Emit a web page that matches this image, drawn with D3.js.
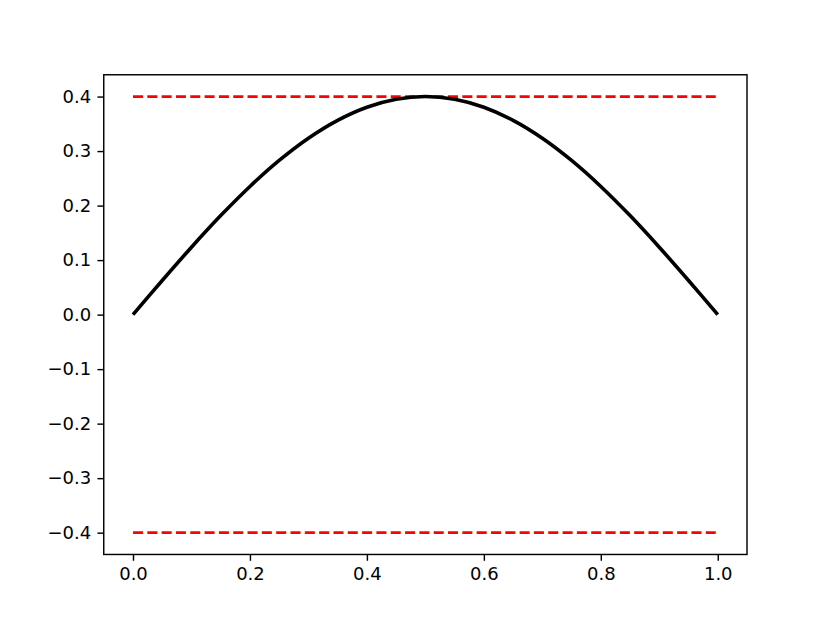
<!DOCTYPE html>
<html>
<head>
<meta charset="utf-8">
<script src="https://cdn.jsdelivr.net/npm/d3@7"></script>
<style>
  body { margin: 0; background: #fff; }
  svg { display: block; font-family: "DejaVu Sans", sans-serif; }
</style>
</head>
<body>
<div id="chart"></div>
<script>
// curve (x, y)
var curveX = [0, 0.05, 0.1, 0.15, 0.2, 0.25, 0.3, 0.35, 0.4, 0.45, 0.5,
              0.55, 0.6, 0.65, 0.7, 0.75, 0.8, 0.85, 0.9, 0.95, 1.0];
var curveY = [0, 0.0626, 0.1236, 0.1816, 0.2351, 0.2828, 0.3236, 0.3564, 0.3804, 0.3951, 0.4,
              0.3951, 0.3804, 0.3564, 0.3236, 0.2828, 0.2351, 0.1816, 0.1236, 0.0626, 0];

// horizontal dashed bounds
var boundLevels = [0.4, -0.4];
var boundSpan = [0, 1];

var xTicks = [0, 0.2, 0.4, 0.6, 0.8, 1.0];
var yTicks = [-0.4, -0.3, -0.2, -0.1, 0, 0.1, 0.2, 0.3, 0.4];

var width = 830, height = 623;
var s = (830 / 640) * (100 / 72); // pt -> px
var margin = { left: 0.125 * width, right: 0.1 * width, top: 0.12 * height, bottom: 0.11 * height };

var svg = d3.select('#chart').append('svg')
    .attr('width', width)
    .attr('height', height);

var x = d3.scaleLinear().domain([-0.05, 1.05]).range([margin.left, width - margin.right]);
var y = d3.scaleLinear().domain([-0.44, 0.44]).range([height - margin.bottom, margin.top]);

var fmt = function(d) { return d3.format('.1f')(d).replace('-', '\u2212'); };

// bounds
var redW = 1.5 * s;
svg.append('g')
    .selectAll('line')
    .data(boundLevels)
    .enter().append('line')
    .attr('x1', x(boundSpan[0]))
    .attr('x2', x(boundSpan[1]))
    .attr('y1', function(d) { return y(d); })
    .attr('y2', function(d) { return y(d); })
    .attr('stroke', 'red')
    .attr('stroke-width', redW)
    .attr('stroke-dasharray', (3.7 * redW) + ',' + (1.6 * redW));

// curve
var pts = curveX.map(function(d, i) { return [d, curveY[i]]; });
svg.append('path')
    .datum(pts)
    .attr('fill', 'none')
    .attr('stroke', '#000')
    .attr('stroke-width', 2 * s)
    .attr('stroke-linecap', 'butt')
    .attr('d', d3.line()
        .x(function(d) { return x(d[0]); })
        .y(function(d) { return y(d[1]); })
        .curve(d3.curveCatmullRom));

// axes
var xAxis = svg.append('g')
    .attr('transform', 'translate(0,' + (height - margin.bottom) + ')')
    .call(d3.axisBottom(x).tickValues(xTicks).tickFormat(fmt).tickSize(3.5 * s).tickPadding(3.5 * s).tickSizeOuter(0));
var yAxis = svg.append('g')
    .attr('transform', 'translate(' + margin.left + ',0)')
    .call(d3.axisLeft(y).tickValues(yTicks).tickFormat(fmt).tickSize(3.5 * s).tickPadding(3.5 * s).tickSizeOuter(0));

[xAxis, yAxis].forEach(function(a) {
    a.select('.domain').remove();
    a.selectAll('line').attr('stroke', '#000').attr('stroke-width', 0.8 * s);
    a.selectAll('text').attr('font-size', 10 * s).attr('font-family', '"DejaVu Sans", sans-serif').attr('fill', '#000');
});

// frame
svg.append('rect')
    .attr('x', margin.left)
    .attr('y', margin.top)
    .attr('width', width - margin.left - margin.right)
    .attr('height', height - margin.top - margin.bottom)
    .attr('fill', 'none')
    .attr('stroke', '#000')
    .attr('stroke-width', 0.8 * s);
</script>
</body>
</html>
